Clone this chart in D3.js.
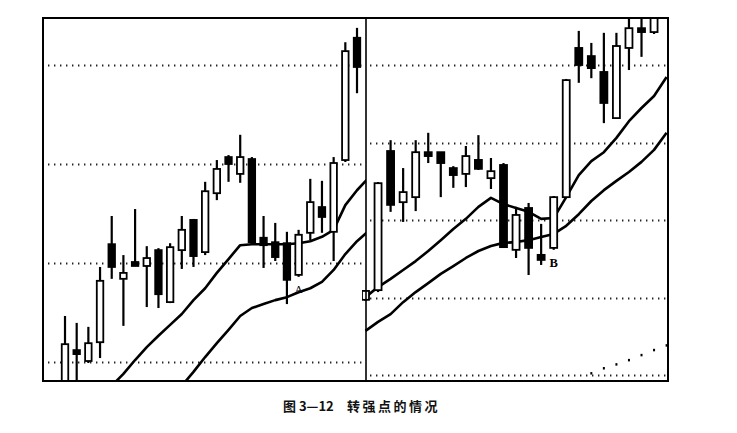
<!DOCTYPE html>
<html><head><meta charset="utf-8">
<script src="https://cdn.jsdelivr.net/npm/d3@7"></script>
<style>html,body{margin:0;padding:0;background:#fff;}svg{display:block;}</style>
</head><body>
<script>
// ---------- DATA ----------
// Left panel (26 sessions)
const leftOpen  = [9.54,10.24,10.02,10.40,12.38,11.68,12.02,11.94,12.26,11.21,12.26,12.87,12.22,13.41,14.14,13.80,14.10,12.51,12.42,12.40,11.76,12.61,13.13,12.63,14.08,16.55];
const leftHigh  = [10.93,10.79,10.71,11.92,12.95,12.16,13.09,12.34,12.30,12.40,12.95,12.89,13.64,14.08,14.18,14.59,14.14,12.95,12.81,12.63,12.67,13.70,13.66,14.14,16.46,16.75];
const leftLow   = [9.43,9.43,9.98,10.08,11.68,10.73,11.94,11.11,11.09,11.19,11.88,11.92,12.16,13.27,13.64,13.62,12.40,11.90,12.04,11.17,11.72,12.46,12.61,12.04,14.04,15.43];
const leftClose = [10.36,10.16,10.38,11.64,11.92,11.80,11.94,12.10,11.37,12.32,12.67,12.14,13.45,13.90,14.00,14.14,12.42,12.36,12.12,11.66,12.57,13.23,12.93,14.02,16.28,15.96];
const leftMA1   = [null,null,null,null,9.52,9.76,10.04,10.30,10.53,10.75,10.97,11.25,11.49,11.80,12.08,12.36,12.38,12.38,12.38,12.38,12.40,12.44,12.53,12.67,13.17,13.47,13.72];
const leftMA2   = [null,null,null,null,null,null,null,null,null,null,9.52,9.80,10.10,10.38,10.65,10.93,11.09,11.17,11.25,11.31,11.41,11.49,11.62,11.86,12.18,12.44,12.65];
const leftGrid  = [10,12,14,16];

// Right panel (24 sessions)
const rightOpen  = [11.94,12.19,15.78,14.46,14.59,15.75,15.75,15.34,15.19,15.55,15.08,15.42,13.23,14.31,13.10,13.28,14.59,18.44,18.23,17.82,16.63,18.44,18.95,18.85];
const rightHigh  = [12.19,14.98,16.06,15.34,16.06,16.25,15.75,15.39,15.91,16.19,15.60,15.47,14.34,14.44,13.90,14.62,17.64,18.88,18.57,18.83,18.83,19.29,19.37,19.42];
const rightLow   = [11.91,12.14,14.21,13.95,14.23,15.47,14.59,14.83,14.85,15.29,14.80,13.28,13.02,12.58,12.84,13.23,14.57,17.54,17.66,16.50,16.61,17.87,18.21,18.80];
const rightClose = [12.17,14.95,14.39,14.72,15.75,15.65,15.47,15.16,15.65,15.32,15.26,13.30,14.13,13.28,12.97,14.59,17.61,18.00,17.92,17.02,18.49,18.95,18.85,19.32];
const rightMA1   = [12.01,12.27,12.48,12.71,12.94,13.20,13.48,13.77,14.03,14.34,14.57,14.41,14.31,14.21,14.03,14.05,14.59,15.16,15.52,15.75,16.12,16.55,16.89,17.20,17.69];
const rightMA2   = [11.14,11.37,11.57,11.88,12.14,12.37,12.61,12.81,13.02,13.20,13.33,13.41,13.43,13.48,13.56,13.64,13.85,14.15,14.49,14.77,15.01,15.24,15.50,15.81,16.25];
const rightDotIdx = [18,19,20,21,22,23,24];
const rightDots   = [10.05,10.18,10.28,10.39,10.52,10.65,10.77];
const rightGrid  = [10,12,14,16,18];

const labelA = {text:"A", idx:20, value:11.40};
const labelB = {text:"B", idx:15, value:12.79};
const captionLeft = "图 3—12";
const captionRight = "转强点的情况";

// ---------- DRAW ----------
const W = 737, H = 433;
const frame = {x0:43, x1:668, y0:18, y1:381, div:366};
const svg = d3.select("body").append("svg").attr("width", W).attr("height", H);

const xL = d3.scaleLinear().domain([-1.884, 25.77]).range([frame.x0, frame.div]);
const yL = d3.scaleLinear().domain([10, 16]).range([362, 65]);
const xR = d3.scaleLinear().domain([0, 24]).range([365.5, 666.6]);
const yR = d3.scaleLinear().domain([10, 18]).range([375, 65]);

const defs = svg.append("defs");
defs.append("clipPath").attr("id","clipL").append("rect")
  .attr("x", frame.x0).attr("y", frame.y0).attr("width", frame.div - frame.x0).attr("height", frame.y1 - frame.y0);
defs.append("clipPath").attr("id","clipR").append("rect")
  .attr("x", frame.div - 4).attr("y", frame.y0).attr("width", frame.x1 - frame.div + 4).attr("height", frame.y1 - frame.y0);

function panel(opts) {
  const {x, y, clip, gx0, gx1, grid, O, Hh, L, C, ma1, ma2, bw} = opts;
  const g = svg.append("g").attr("clip-path", `url(#${clip})`);
  // gridlines
  g.selectAll("line.grid").data(grid).join("line").attr("class","grid")
    .attr("x1", gx0).attr("x2", gx1)
    .attr("y1", d => Math.round(y(d)) + 0.5).attr("y2", d => Math.round(y(d)) + 0.5)
    .attr("stroke", "#222").attr("stroke-width", 2).attr("stroke-dasharray", "1.4 4.6");
  // moving averages
  const line = d3.line().defined(d => d != null).x((d, i) => x(i)).y(d => y(d));
  [ma1, ma2].forEach(ma => {
    g.append("path").datum(ma).attr("d", line).attr("fill","none")
      .attr("stroke","#000").attr("stroke-width",2.6).attr("stroke-linejoin","round");
  });
  // candles
  const idx = d3.range(O.length);
  const c = g.selectAll("g.c").data(idx).join("g").attr("class","c");
  c.append("line").attr("x1", i => x(i)).attr("x2", i => x(i))
    .attr("y1", i => y(Hh[i])).attr("y2", i => y(L[i]))
    .attr("stroke","#000").attr("stroke-width",2.2);
  c.append("rect")
    .attr("x", i => x(i) - bw/2).attr("width", bw)
    .attr("y", i => Math.min(y(O[i]), y(C[i])))
    .attr("height", i => Math.max(2.5, Math.abs(y(O[i]) - y(C[i]))))
    .attr("fill", i => C[i] >= O[i] ? "#fff" : "#000")
    .attr("stroke","#000").attr("stroke-width",1.8);
  return g;
}

const gL = panel({x:xL, y:yL, clip:"clipL", gx0:48, gx1:364, grid:leftGrid,
  O:leftOpen, Hh:leftHigh, L:leftLow, C:leftClose, ma1:leftMA1, ma2:leftMA2, bw:6.5});
const gR = panel({x:xR, y:yR, clip:"clipR", gx0:370, gx1:666, grid:rightGrid,
  O:rightOpen, Hh:rightHigh, L:rightLow, C:rightClose, ma1:rightMA1, ma2:rightMA2, bw:7});

// small dotted indicator in right panel
gR.selectAll("rect.dot").data(rightDots).join("rect").attr("class","dot")
  .attr("x", (d,i) => xR(rightDotIdx[i]) - 1).attr("y", d => yR(d) - 1)
  .attr("width", 2).attr("height", 2.5).attr("fill","#000");

// labels
svg.append("text").attr("x", xL(labelA.idx)).attr("y", yL(labelA.value))
  .attr("text-anchor","middle").attr("font-family","Liberation Serif, DejaVu Serif, serif")
  .attr("font-size", 11).attr("fill","#000").text(labelA.text);
svg.append("text").attr("x", xR(labelB.idx)).attr("y", yR(labelB.value))
  .attr("text-anchor","middle").attr("font-family","Liberation Serif, DejaVu Serif, serif")
  .attr("font-size", 12.5).attr("font-weight","bold").attr("fill","#000").text(labelB.text);

// frame & divider
svg.append("rect").attr("x", frame.x0).attr("y", frame.y0)
  .attr("width", frame.x1 - frame.x0).attr("height", frame.y1 - frame.y0)
  .attr("fill","none").attr("stroke","#000").attr("stroke-width",2);
svg.append("line").attr("x1", frame.div).attr("x2", frame.div)
  .attr("y1", frame.y0).attr("y2", frame.y1).attr("stroke","#000").attr("stroke-width",1.6);

// caption
const capFont = "'Noto Sans CJK SC', 'Noto Sans', sans-serif";
svg.append("text").attr("x", 283).attr("y", 411).attr("font-family", capFont)
  .attr("font-size", 13).attr("font-weight", "bold").attr("fill","#111").text(captionLeft);
svg.append("text").attr("x", 347).attr("y", 411).attr("font-family", capFont)
  .attr("font-size", 13).attr("font-weight", "bold").attr("letter-spacing", 2.5).attr("fill","#111").text(captionRight);
</script>
</body></html>
